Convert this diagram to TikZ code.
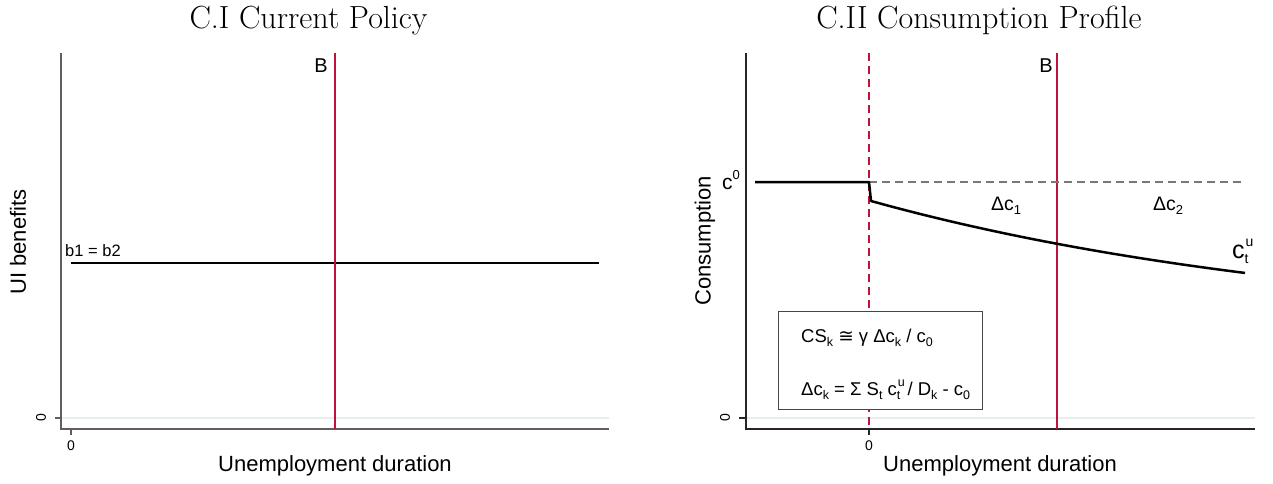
\documentclass[tikz,border=0pt]{standalone}
\usepackage{fontspec}
\usepackage{tikz}
\usetikzlibrary{positioning}
\newfontfamily\sansfont{Liberation Sans}
\newfontfamily\symfont{DejaVu Sans}
\definecolor{axgray}{RGB}{95,95,95}
\definecolor{gridgray}{RGB}{230,238,239}
\definecolor{bred}{RGB}{190,20,60}
\definecolor{dashgray}{RGB}{120,120,120}
\definecolor{boxgray}{RGB}{70,70,70}
\newcommand{\lowtxt}[2][12.5]{\raisebox{-0.45ex}{\fontsize{#1}{#1}\selectfont #2}}
\newcommand{\hightxt}[2][12.5]{\raisebox{0.9ex}{\fontsize{#1}{#1}\selectfont #2}}
\newcommand{\hilo}[3][12.5]{\rlap{\kern1pt\hightxt[#1]{#2}}\lowtxt[#1]{#3}\kern2pt\relax}

\begin{document}
\begin{tikzpicture}
[
x=1pt, y=-1pt,
axis-a/.style={draw=axgray, line width=1.2pt},
grid-a/.style={draw=gridgray, line width=1.5pt},
line-b/.style={draw=bred, line width=1.2pt},
line-c/.style={draw=bred, line width=1.2pt, dash pattern=on 8pt off 5pt},
line-d/.style={draw=dashgray, line width=1.4pt, dash pattern=on 8pt off 5pt},
curve-a/.style={draw=black, line width=2.5pt, line join=round},
box-a/.style={draw=boxgray, fill=white, line width=1pt, rectangle, inner sep=0pt},
title-a/.style={font=\fontsize{32}{38}\selectfont, inner sep=0pt, anchor=base},
text-a/.style={font=\sansfont\fontsize{22}{26}\selectfont, inner sep=0pt},
text-b/.style={font=\sansfont\fontsize{19.5}{23}\selectfont, inner sep=0pt},
text-c/.style={font=\sansfont\fontsize{18.5}{22}\selectfont, inner sep=0pt, anchor=base west},
tick-a/.style={font=\sansfont\fontsize{14}{16}\selectfont, inner sep=0pt}
]
\useasboundingbox (0,0) rectangle (1273,483);

% left panel: current policy
\node (title-1)    [title-a] at (308.5,28) {C.I Current Policy};
\coordinate (ax1-top)    at (61,53);
\coordinate (ax1-org)    at (61,429);
\coordinate (ax1-end)    at (609,429);
\coordinate (grid1-beg)  at (61,418);
\coordinate (grid1-end)  at (609,418);
\draw[grid-a] (grid1-beg) -- (grid1-end);
\draw[axis-a] (ax1-top) -- (ax1-org) -- (ax1-end);
\coordinate (ytk1-a)     at (55,418);
\draw[axis-a] (ytk1-a) -- (grid1-beg);
\node (ytk1-id)    [tick-a, rotate=90] at (41,418) {0};
\coordinate (xtk1-a)     at (71,429);
\coordinate (xtk1-b)     at (71,435);
\draw[axis-a] (xtk1-a) -- (xtk1-b);
\node (xtk1-id)    [tick-a, anchor=base] at (71,450) {0};
\node (xlab-1)     [text-a, anchor=base] at (335,471) {Unemployment duration};
\node (ylab-1)     [text-a, rotate=90] at (18,242) {UI benefits};
\coordinate (bline-beg)  at (71,263);
\coordinate (bline-end)  at (599,263);
\draw[curve-a] (bline-beg) -- (bline-end);
\node (bline-lab)  [text-b, font=\sansfont\fontsize{16.5}{19}\selectfont, anchor=base west] at (65,256) {b1 = b2};
\coordinate (red1-top)   at (335,53);
\coordinate (red1-bot)   at (335,429);
\draw[line-b] (red1-top) -- (red1-bot);
\node (red1-lab)   [text-b, font=\sansfont\fontsize{20}{24}\selectfont, anchor=base east] at (328,72) {B};

% right panel: consumption profile
\node (title-2)    [title-a] at (979,28) {C.II Consumption Profile};
\coordinate (ax2-top)    at (746,53);
\coordinate (ax2-org)    at (746,429);
\coordinate (ax2-end)    at (1255,429);
\coordinate (grid2-beg)  at (746,418);
\coordinate (grid2-end)  at (1255,418);
\draw[grid-a] (grid2-beg) -- (grid2-end);
\draw[axis-a, draw=black!85] (ax2-top) -- (ax2-org) -- (ax2-end);
\coordinate (ytk2-a)     at (739,418);
\draw[axis-a, draw=black!85] (ytk2-a) -- (grid2-beg);
\node (ytk2-id)    [tick-a, rotate=90] at (725,418) {0};
\coordinate (xtk2-a)     at (869,429);
\coordinate (xtk2-b)     at (869,435);
\draw[axis-a, draw=black!85] (xtk2-a) -- (xtk2-b);
\node (xtk2-id)    [tick-a, anchor=base] at (869,450) {0};
\node (xlab-2)     [text-a, anchor=base] at (1000,471) {Unemployment duration};
\node (ylab-2)     [text-a, rotate=90] at (705,241) {Consumption};
\coordinate (red0-top)   at (869,53);
\coordinate (red0-bot)   at (869,429);
\draw[line-c] (red0-top) -- (red0-bot);
\coordinate (red2-top)   at (1057,53);
\coordinate (red2-bot)   at (1057,429);
\draw[line-b] (red2-top) -- (red2-bot);
\node (red2-lab)   [text-b, font=\sansfont\fontsize{20}{24}\selectfont, anchor=base east] at (1053,72) {B};
\coordinate (c0-beg)     at (755,182);
\coordinate (c0-drop)    at (869,182);
\coordinate (c0-end)     at (1245,182);
\coordinate (cu-beg)     at (871,201);
\draw[line-d] (c0-drop) -- (c0-end);
\draw[curve-a] (c0-beg) -- (c0-drop) -- (cu-beg)
  -- plot[domain=0:374, samples=60] ({871+\x},{201+132*(1-exp(-0.00211*\x))});
\node (c0-lab)     [text-a, font=\sansfont\fontsize{21}{24}\selectfont, anchor=base west] at (722,189) {c\hightxt[13]{0}};
\node (dc1-lab)    [text-b, anchor=base west] at (991,210) {Δc\lowtxt[13]{1}};
\node (dc2-lab)    [text-b, anchor=base west] at (1153,210) {Δc\lowtxt[13]{2}};
\node (cu-lab)     [text-a, font=\sansfont\fontsize{25}{28}\selectfont, anchor=base west] at (1232,258) {c\hilo[14]{u}{t}};
\node (form-box)   [box-a, minimum width=204pt, minimum height=98pt] at (880,360) {};
\node (form-1)     [text-c] at (801,342) {CS\lowtxt{k} {\symfont ≅} γ Δc\lowtxt{k} / c\lowtxt{0}};
\node (form-2)     [text-c] at (801,395) {Δc\lowtxt{k} = Σ S\lowtxt{t} c\hilo{u}{t} / D\lowtxt{k} - c\lowtxt{0}};
\end{tikzpicture}
\end{document}
